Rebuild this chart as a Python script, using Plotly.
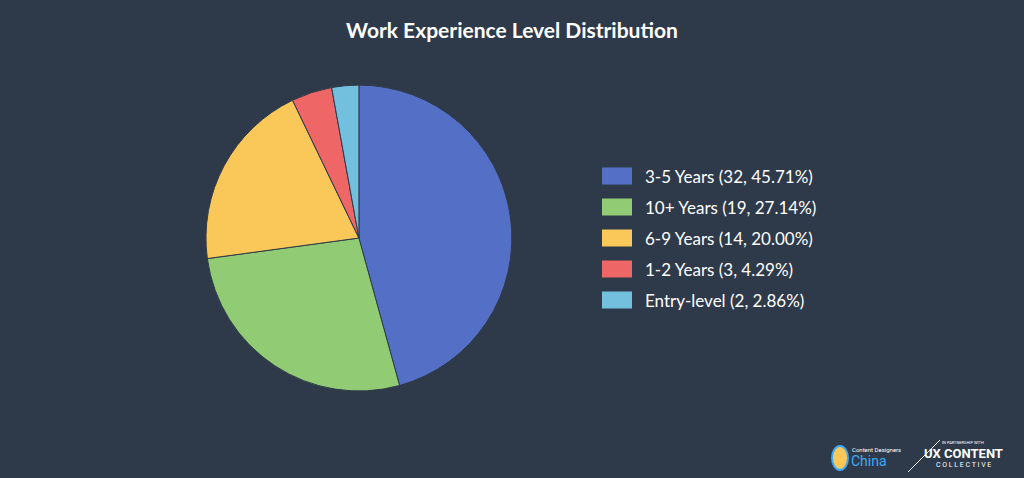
import plotly.graph_objects as go

categories = ["3-5 Years", "10+ Years", "6-9 Years", "1-2 Years", "Entry-level"]
counts = [32, 19, 14, 3, 2]
colors = ["#5470c6", "#91cc75", "#fac858", "#ee6666", "#73c0de"]

total = sum(counts)
labels = [f"{c} ({v}, {v/total*100:.2f}%)" for c, v in zip(categories, counts)]

W, H = 1024, 478
fig = go.Figure(go.Pie(
    labels=labels, values=counts, sort=False, direction="clockwise", rotation=0,
    marker=dict(colors=colors, line=dict(color="#2e3a4a", width=1)),
    textinfo="none", hoverinfo="label", showlegend=False,
    domain=dict(x=[0.201, 0.5], y=[0.182, 0.822]),
))

shapes, annotations = [], []
for i, (lab, col) in enumerate(zip(labels, colors)):
    yc = 176 + i * 31
    shapes.append(dict(type="rect", xref="paper", yref="paper",
                       x0=602 / W, x1=632 / W, y0=1 - (yc + 8.5) / H, y1=1 - (yc - 8.5) / H,
                       fillcolor=col, line=dict(width=0)))
    annotations.append(dict(text=lab, x=643 / W, y=1 - yc / H, xref="paper", yref="paper",
                            showarrow=False, xanchor="left", yanchor="middle",
                            font=dict(family="Lato", size=17, color="white")))

annotations += [
    dict(text="Content Designers", x=850 / W, y=1 - 449 / H, xref="paper", yref="paper",
         showarrow=False, xanchor="left", yanchor="middle", font=dict(family="Roboto", size=6, color="white")),
    dict(text="China", x=849 / W, y=1 - 461 / H, xref="paper", yref="paper",
         showarrow=False, xanchor="left", yanchor="middle", font=dict(family="Roboto", size=14, color="#3fa9f5")),
    dict(text="IN PARTNERSHIP WITH", x=963 / W, y=1 - 442 / H, xref="paper", yref="paper",
         showarrow=False, xanchor="center", yanchor="middle", font=dict(family="Roboto", size=4, color="white")),
    dict(text="<b>UX CONTENT</b>", x=963 / W, y=1 - 453 / H, xref="paper", yref="paper",
         showarrow=False, xanchor="center", yanchor="middle", font=dict(family="Roboto", size=13, color="white")),
    dict(text="C O L L E C T I V E", x=963 / W, y=1 - 465 / H, xref="paper", yref="paper",
         showarrow=False, xanchor="center", yanchor="middle", font=dict(family="Roboto", size=7, color="white")),
]
shapes += [
    dict(type="line", xref="paper", yref="paper", x0=908 / W, y0=1 - 472 / H, x1=940 / W, y1=1 - 440 / H,
         line=dict(color="white", width=1)),
    dict(type="circle", xref="paper", yref="paper", x0=832 / W, y0=1 - 470 / H, x1=848 / W, y1=1 - 446 / H,
         fillcolor="#fac858", line=dict(color="#3fa9f5", width=2)),
]

fig.update_layout(
    width=W, height=H,
    paper_bgcolor="#2e3a4a", plot_bgcolor="#2e3a4a",
    margin=dict(l=0, r=0, t=0, b=0),
    title=dict(text="<b>Work Experience Level Distribution</b>", x=0.5, xanchor="center",
               y=1 - 31 / H, yanchor="middle", font=dict(family="Lato", size=21, color="white")),
    shapes=shapes, annotations=annotations,
)

fig.write_html("out.html", config={"displayModeBar": False},
               post_script="document.body.style.margin='0';")
